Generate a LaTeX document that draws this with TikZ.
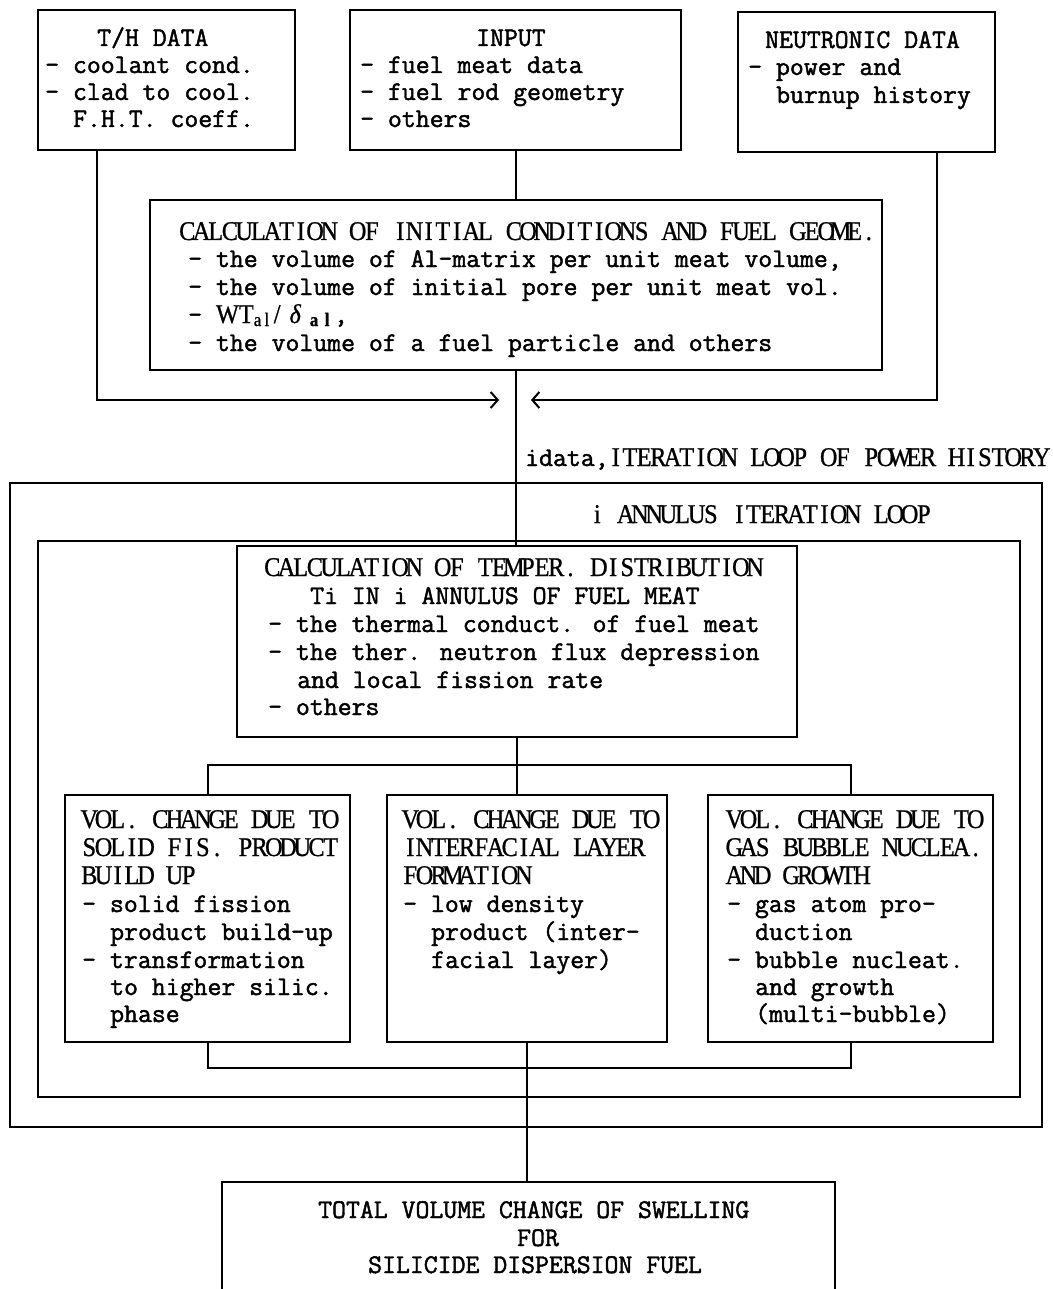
\documentclass[tikz,border=0pt]{standalone}
\usepackage{fontspec}
\usetikzlibrary{arrows.meta}
\newfontfamily\nwfont[FakeStretch=0.9,FakeBold=0.8]{Liberation Serif}
\newfontfamily\ttbold[FakeBold=1.6]{Latin Modern Mono}
\ExplSyntaxOn
\dim_new:N \l_pitch_dim
\dim_set:Nn \l_pitch_dim {14.2pt}
\NewDocumentCommand\pitch{m}{\str_map_inline:nn {#1}{\makebox[\l_pitch_dim]{##1}}}
\ExplSyntaxOff
\newcommand\twfont{\ttbold\fontsize{27pt}{27pt}\selectfont}
\newcommand\twl[4]{\node[tw] (#1) at (#2,#3) {#4};}
\newcommand\nwl[4]{\node[nw] (#1) at (#2,#3) {\pitch{#4}};}
\tikzset{
  box/.style={draw, line width=2pt, rectangle, inner sep=0pt},
  tw/.style={inner sep=0pt, anchor=base west, font=\twfont},
  nw/.style={inner sep=0pt, anchor=base west, font={\nwfont\fontsize{27pt}{28pt}\selectfont}},
  conn/.style={line width=2pt},
  barb/.style={-{Straight Barb[length=7pt,width=16pt]}}
}
\begin{document}
\begin{tikzpicture}[x=1pt,y=-1pt]
\clip (0,0) rectangle (1052,1289);
\fill[white] (0,0) rectangle (1052,1289);
% boxes
\node[box, minimum width=257, minimum height=140] (th) at (166.5,80) {};
\node[box, minimum width=331, minimum height=140] (inp) at (515.5,80) {};
\node[box, minimum width=257, minimum height=140] (neu) at (866.5,82) {};
\node[box, minimum width=732, minimum height=170] (init) at (516,285) {};
\node[box, minimum width=1032, minimum height=644] (outer) at (526,805) {};
\node[box, minimum width=982, minimum height=556] (inner) at (529,819) {};
\node[box, minimum width=560, minimum height=191] (temp) at (517,641.5) {};
\node[box, minimum width=285, minimum height=247] (volL) at (207.5,918.5) {};
\node[box, minimum width=280, minimum height=247] (volM) at (527,918.5) {};
\node[box, minimum width=285, minimum height=247] (volR) at (850.5,918.5) {};
\node[box, minimum width=613, minimum height=138] (tot) at (528.5,1251) {};
% connectors
\coordinate (arrL) at (499,400);
\coordinate (arrR) at (531,400);
\coordinate (jt) at (517,765);
\coordinate (jb) at (527,1068);
\draw[conn,barb] ([xshift=-69.5pt]th.south) |- (arrL);
\draw[conn,barb] ([xshift=70.5pt]neu.south) |- (arrR);
\draw[conn] (inp.south) -- (inp.south |- init.north);
\draw[conn] (init.south) -- (init.south |- temp.north);
\draw[conn] (temp.south) -- (temp.south |- volM.north);
\draw[conn] (volL.north) |- (jt) -| (volR.north);
\draw[conn] (volL.south) |- (jb) -| (volR.south);
\draw[conn] (volM.south) -- (volM.south |- tot.north);
% T/H
\twl{th1}{97}{46}{T/H DATA}
\twl{th2}{45}{73}{- coolant cond.}
\twl{th3}{45}{100}{- clad to cool.}
\twl{th4}{73}{127}{F.H.T. coeff.}
% INPUT
\twl{in1}{476}{46}{INPUT}
\twl{in2}{360}{73}{- fuel meat data}
\twl{in3}{360}{100}{- fuel rod geometry}
\twl{in4}{360}{127}{- others}
% NEUTRONIC
\twl{ne1}{765}{48}{NEUTRONIC DATA}
\twl{ne2}{748}{75}{- power and}
\twl{ne3}{776}{103}{burnup history}
% init
\nwl{i1}{180}{240}{CALCULATION OF INITIAL CONDITIONS AND FUEL GEOME.}
\twl{i2}{188}{267}{- the volume of Al-matrix per unit meat volume,}
\twl{i3}{188}{295}{- the volume of initial pore per unit meat vol.}
\node[tw] (i4) at (188,323) {- {\nwfont\fontsize{27pt}{28pt}\selectfont WT}\raisebox{-3pt}{\nwfont\fontsize{19pt}{19pt}\selectfont a\,l}\,{\nwfont /}\,\,{\nwfont\itshape δ}\,\,\raisebox{-3pt}{\nwfont\fontsize{19pt}{19pt}\selectfont\bfseries a\,\,l}\,,};
\twl{i5}{188}{351}{- the volume of a fuel particle and others}
% loop labels
\node[nw] (lab1) at (525,466) {{\twfont idata,}\pitch{ITERATION LOOP OF POWER HISTORY}};
\nwl{lab2}{590}{523}{i ANNULUS ITERATION LOOP}
% temper
\nwl{t1}{265}{576}{CALCULATION OF TEMPER. DISTRIBUTION}
\twl{t2}{310}{604}{Ti IN i ANNULUS OF FUEL MEAT}
\twl{t3}{268}{632}{- the thermal conduct. of fuel meat}
\twl{t4}{268}{660}{- the ther. neutron flux depression}
\twl{t5}{297}{688}{and local fission rate}
\twl{t6}{268}{715}{- others}
% left vol
\nwl{a1}{82}{828}{VOL. CHANGE DUE TO}
\nwl{a2}{82}{856}{SOLID FIS. PRODUCT}
\nwl{a3}{82}{884}{BUILD UP}
\twl{a4}{82}{912}{- solid fission}
\twl{a5}{110}{940}{product build-up}
\twl{a6}{82}{968}{- transformation}
\twl{a7}{110}{995}{to higher silic.}
\twl{a8}{110}{1022}{phase}
% middle vol
\nwl{b1}{403}{828}{VOL. CHANGE DUE TO}
\nwl{b2}{403}{856}{INTERFACIAL LAYER}
\nwl{b3}{403}{884}{FORMATION}
\twl{b4}{403}{912}{- low density}
\twl{b5}{431}{940}{product (inter-}
\twl{b6}{431}{968}{facial layer)}
% right vol
\nwl{c1}{727}{828}{VOL. CHANGE DUE TO}
\nwl{c2}{727}{856}{GAS BUBBLE NUCLEA.}
\nwl{c3}{727}{884}{AND GROWTH}
\twl{c4}{727}{912}{- gas atom pro-}
\twl{c5}{755}{940}{duction}
\twl{c6}{727}{968}{- bubble nucleat.}
\twl{c7}{755}{995}{and growth}
\twl{c8}{755}{1022}{(multi-bubble)}
% total
\twl{f1}{318}{1218}{TOTAL VOLUME CHANGE OF SWELLING}
\twl{f2}{517}{1246}{FOR}
\twl{f3}{368}{1273}{SILICIDE DISPERSION FUEL}
\end{tikzpicture}
\end{document}
